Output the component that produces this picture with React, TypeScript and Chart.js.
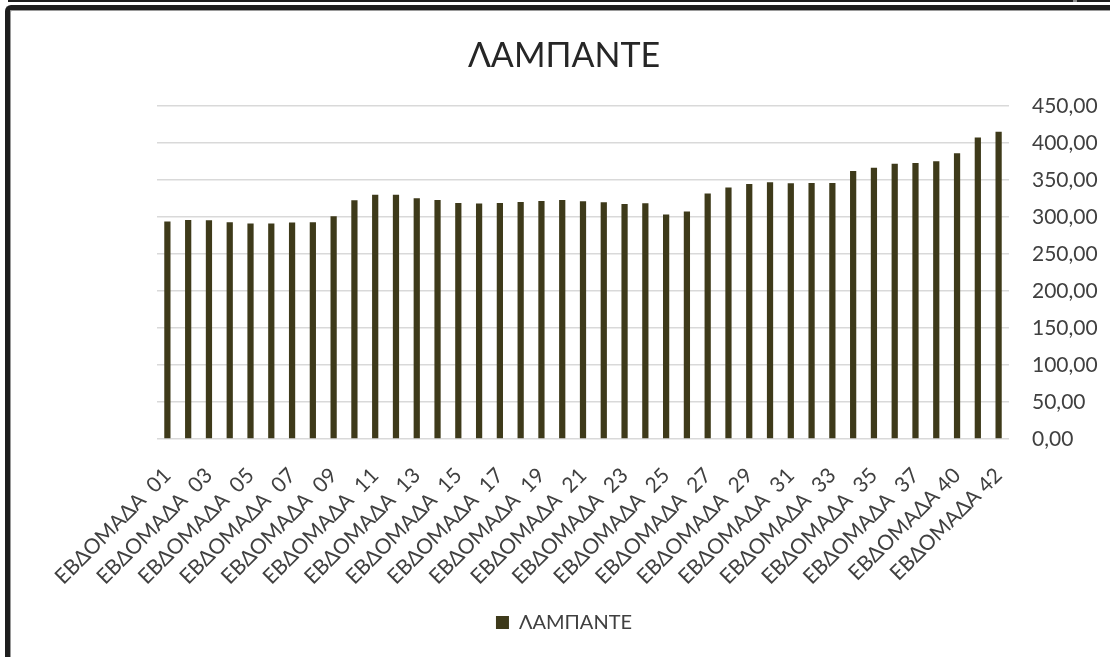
import React, { useEffect, useRef } from 'react';
import { Chart, registerables } from 'chart.js';

Chart.register(...registerables);

const TITLE = 'ΛΑΜΠΑΝΤΕ';
const SERIES_NAME = 'ΛΑΜΠΑΝΤΕ';

const categories = [
  'ΕΒΔΟΜΑΔΑ  01', 'ΕΒΔΟΜΑΔΑ  02', 'ΕΒΔΟΜΑΔΑ  03', 'ΕΒΔΟΜΑΔΑ  04', 'ΕΒΔΟΜΑΔΑ  05',
  'ΕΒΔΟΜΑΔΑ  06', 'ΕΒΔΟΜΑΔΑ  07', 'ΕΒΔΟΜΑΔΑ  08', 'ΕΒΔΟΜΑΔΑ  09', 'ΕΒΔΟΜΑΔΑ  10',
  'ΕΒΔΟΜΑΔΑ  11', 'ΕΒΔΟΜΑΔΑ  12', 'ΕΒΔΟΜΑΔΑ  13', 'ΕΒΔΟΜΑΔΑ  14', 'ΕΒΔΟΜΑΔΑ  15',
  'ΕΒΔΟΜΑΔΑ  16', 'ΕΒΔΟΜΑΔΑ  17', 'ΕΒΔΟΜΑΔΑ  18', 'ΕΒΔΟΜΑΔΑ  19', 'ΕΒΔΟΜΑΔΑ  20',
  'ΕΒΔΟΜΑΔΑ  21', 'ΕΒΔΟΜΑΔΑ  22', 'ΕΒΔΟΜΑΔΑ  23', 'ΕΒΔΟΜΑΔΑ  24', 'ΕΒΔΟΜΑΔΑ  25',
  'ΕΒΔΟΜΑΔΑ  26', 'ΕΒΔΟΜΑΔΑ  27', 'ΕΒΔΟΜΑΔΑ  28', 'ΕΒΔΟΜΑΔΑ  29', 'ΕΒΔΟΜΑΔΑ  30',
  'ΕΒΔΟΜΑΔΑ  31', 'ΕΒΔΟΜΑΔΑ  32', 'ΕΒΔΟΜΑΔΑ  33', 'ΕΒΔΟΜΑΔΑ  34', 'ΕΒΔΟΜΑΔΑ  35',
  'ΕΒΔΟΜΑΔΑ  36', 'ΕΒΔΟΜΑΔΑ  37', 'ΕΒΔΟΜΑΔΑ  38', 'ΕΒΔΟΜΑΔΑ 40', 'ΕΒΔΟΜΑΔΑ 41',
  'ΕΒΔΟΜΑΔΑ 42',
];

const values = [
  293.8, 296.0, 295.6, 292.9, 291.1, 291.1, 292.5, 292.9, 301.0, 322.6,
  330.2, 330.2, 325.3, 323.1, 319.0, 318.1, 319.0, 320.4, 321.7, 323.1,
  321.3, 319.9, 317.6, 318.6, 303.3, 307.3, 331.7, 339.8, 344.7, 346.9,
  345.6, 346.0, 346.0, 362.2, 366.7, 372.1, 373.0, 375.3, 386.1, 407.3,
  415.3,
];

const Y_MIN = 0;
const Y_MAX = 450;
const Y_STEP = 50;

const FONT = 'Lato, "Noto Sans", sans-serif';
const BAR_COLOR = '#3E3A1A';
const TEXT_COLOR = '#404040';
const TITLE_COLOR = '#262626';
const GRID_COLOR = '#D9D9D9';
const FRAME_COLOR = '#1e1e1e';

export default function App() {
  const canvasRef = useRef<HTMLCanvasElement | null>(null);

  useEffect(() => {
    if (!canvasRef.current) return;
    const chart = new Chart(canvasRef.current, {
      type: 'bar',
      data: {
        labels: categories,
        datasets: [
          {
            label: SERIES_NAME,
            data: values,
            backgroundColor: BAR_COLOR,
            borderWidth: 0,
            barPercentage: 0.3,
            categoryPercentage: 1,
            yAxisID: 'y',
          },
        ],
      },
      options: {
        responsive: false,
        animation: false,
        devicePixelRatio: 1,
        layout: { padding: { left: 18, right: 0, top: 0, bottom: 14.5 } },
        plugins: {
          title: {
            display: true,
            text: TITLE,
            color: TITLE_COLOR,
            font: { family: FONT, size: 34, weight: 'normal' },
            padding: { top: 35.6, bottom: 29.6 },
          },
          legend: {
            position: 'bottom',
            labels: {
              boxWidth: 13,
              boxHeight: 13,
              padding: 10,
              color: TEXT_COLOR,
              font: { family: FONT, size: 20 },
            },
          },
          tooltip: { enabled: false },
        },
        scales: {
          x: {
            grid: { display: false, drawTicks: false },
            border: { display: false },
            ticks: {
              autoSkip: false,
              minRotation: 45,
              maxRotation: 45,
              padding: 24,
              color: TEXT_COLOR,
              font: { family: FONT, size: 21 },
              callback: (_v: any, i: number) => (i % 2 === 0 ? categories[i] : null),
            },
            afterFit: (s: any) => {
              s.height = 163.5;
            },
          },
          y: {
            position: 'right',
            min: Y_MIN,
            max: Y_MAX,
            ticks: {
              stepSize: Y_STEP,
              padding: 23,
              color: TEXT_COLOR,
              font: { family: FONT, size: 21 },
              callback: (v: any) => Number(v).toFixed(2).replace('.', ','),
            },
            grid: { color: GRID_COLOR, lineWidth: 1.5, drawTicks: false },
            border: { display: false },
            afterFit: (s: any) => {
              s.width = 101;
            },
          },
          yLeft: {
            position: 'left',
            display: true,
            ticks: { display: false },
            grid: { display: false, drawTicks: false },
            border: { display: false },
            afterFit: (s: any) => {
              s.width = 139;
            },
          },
        },
      } as any,
    });
    return () => chart.destroy();
  }, []);

  return (
    <div
      style={{
        position: 'absolute',
        left: 0,
        top: 0,
        width: 1110,
        height: 657,
        overflow: 'hidden',
        background: '#ffffff',
      }}
    >
      <canvas
        ref={canvasRef}
        width={1110}
        height={657}
        style={{ position: 'absolute', left: 0, top: 0, width: 1110, height: 657 }}
      />
      <div
        style={{
          position: 'absolute',
          left: 8,
          top: 0,
          width: 1102,
          height: 2,
          background: FRAME_COLOR,
          pointerEvents: 'none',
        }}
      />
      <div
        style={{
          position: 'absolute',
          left: 1073,
          top: 0,
          width: 4,
          height: 2,
          background: '#8a8a8a',
          pointerEvents: 'none',
        }}
      />
      <div
        style={{
          position: 'absolute',
          left: 5,
          top: 5,
          width: 1200,
          height: 800,
          boxSizing: 'border-box',
          borderTop: `5px solid ${FRAME_COLOR}`,
          borderLeft: `5px solid ${FRAME_COLOR}`,
          borderTopLeftRadius: 6,
          boxShadow: 'inset 1px 1px 0 #9a9a9a',
          pointerEvents: 'none',
        }}
      />
    </div>
  );
}
